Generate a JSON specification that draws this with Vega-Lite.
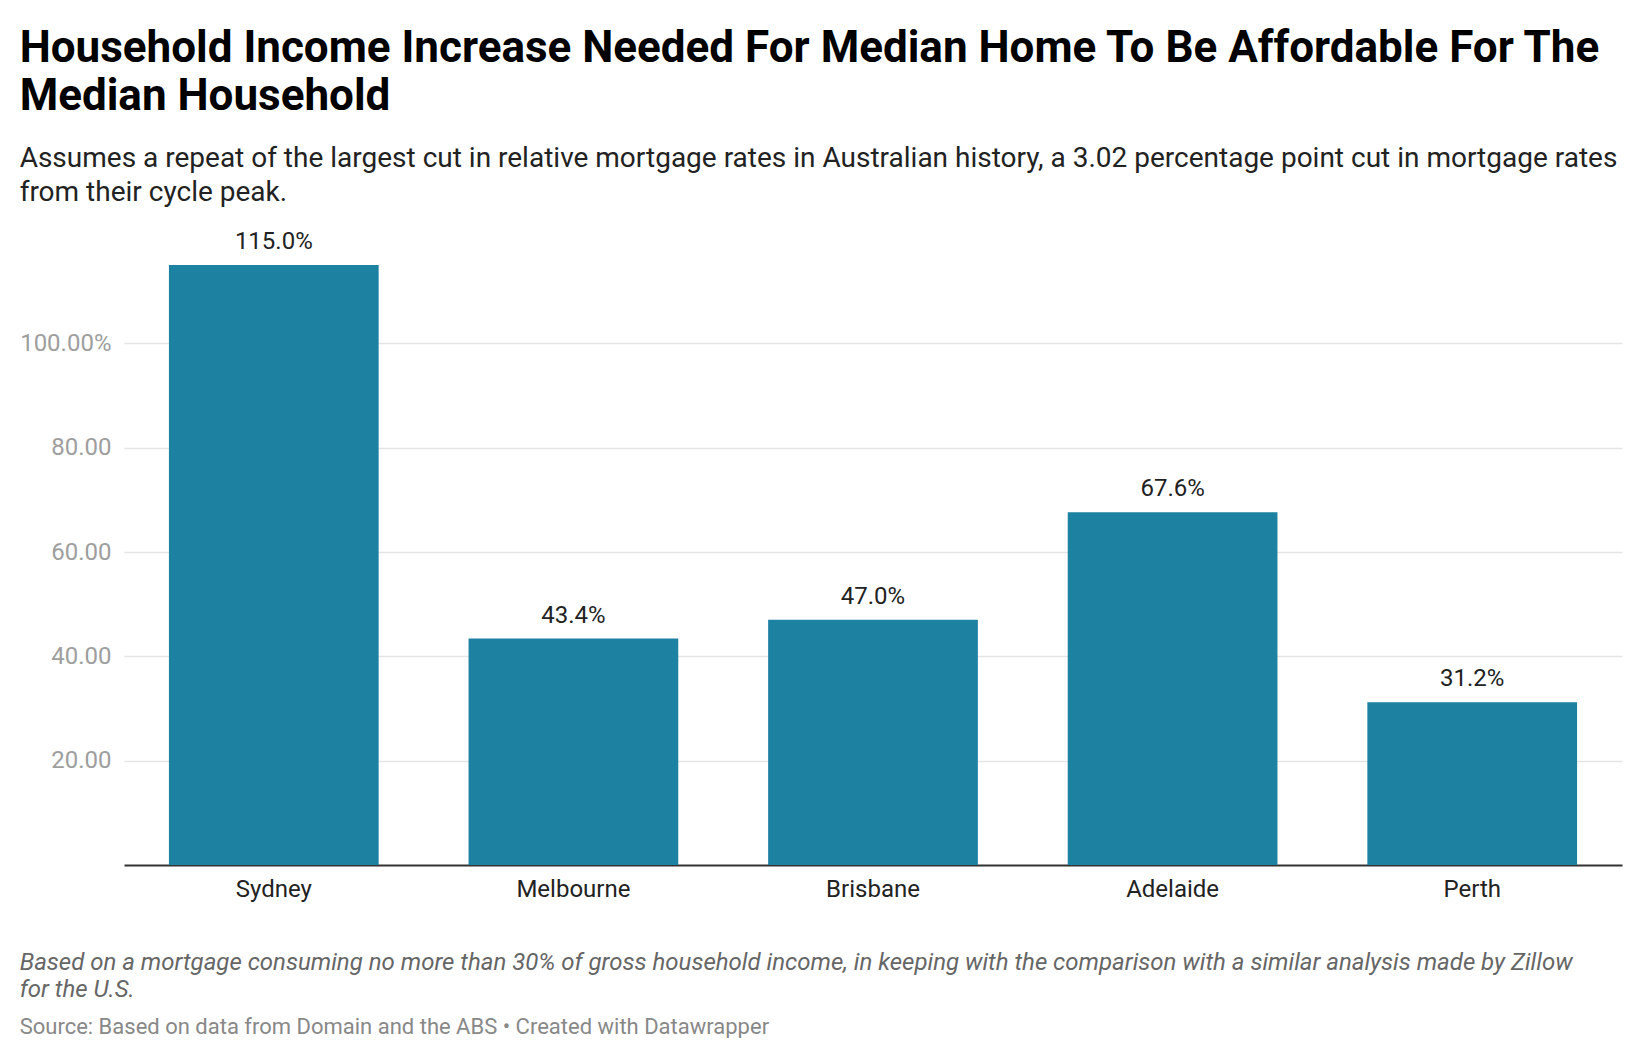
{
  "$schema": "https://vega.github.io/schema/vega-lite/v6.json",
  "background": "white",
  "padding": {"left": 19, "top": 27, "right": 12, "bottom": 0},
  "config": {"font": "Roboto", "view": {"stroke": null}},
  "title": {
    "text": ["Household Income Increase Needed For Median Home To Be Affordable For The", "Median Household"],
    "subtitle": ["Assumes a repeat of the largest cut in relative mortgage rates in Australian history, a 3.02 percentage point cut in mortgage rates", "from their cycle peak."],
    "anchor": "start",
    "frame": "bounds",
    "font": "Roboto",
    "fontSize": 44,
    "fontWeight": "bold",
    "lineHeight": 48,
    "color": "#000000",
    "subtitleFont": "Roboto",
    "subtitleFontSize": 28,
    "subtitleLineHeight": 34,
    "subtitleColor": "#222222",
    "subtitlePadding": 26,
    "offset": 23
  },
  "vconcat": [
    {
      "width": 1498,
      "height": 626,
      "title": {
        "text": ["Based on a mortgage consuming no more than 30% of gross household income, in keeping with the comparison with a similar analysis made by Zillow", "for the U.S."],
        "orient": "bottom",
        "anchor": "start",
        "frame": "bounds",
        "font": "Roboto",
        "fontSize": 24,
        "fontStyle": "italic",
        "fontWeight": "normal",
        "color": "#666666",
        "lineHeight": 27,
        "subtitle": "Source: Based on data from Domain and the ABS • Created with Datawrapper",
        "subtitleFont": "Roboto",
        "subtitleFontSize": 22,
        "subtitleColor": "#888888",
        "subtitlePadding": 15,
        "offset": 50
      },
      "data": {
        "values": [
          {"city": "Sydney", "value": 1.15},
          {"city": "Melbourne", "value": 0.434},
          {"city": "Brisbane", "value": 0.47},
          {"city": "Adelaide", "value": 0.676},
          {"city": "Perth", "value": 0.312}
        ]
      },
      "encoding": {
        "x": {
          "field": "city",
          "type": "nominal",
          "sort": null,
          "scale": {"paddingInner": 0.3, "paddingOuter": 0.15},
          "axis": {
            "title": null,
            "labelAngle": 0,
            "ticks": false,
            "grid": false,
            "domainColor": "#333333",
            "domainWidth": 2,
            "labelFont": "Roboto",
            "labelFontSize": 24,
            "labelColor": "#222222",
            "labelPadding": 12
          }
        },
        "y": {
          "field": "value",
          "type": "quantitative",
          "scale": {"domain": [0, 1.2], "nice": false},
          "axis": {
            "title": null,
            "values": [0.2, 0.4, 0.6, 0.8, 1.0],
            "labelExpr": "datum.value >= 0.99 ? '100.00%' : format(datum.value * 100, '.2f')",
            "domain": false,
            "ticks": false,
            "grid": true,
            "gridColor": "#e5e5e5",
            "gridWidth": 1.5,
            "labelFont": "Roboto",
            "labelFontSize": 24,
            "labelColor": "#9e9e9e",
            "labelPadding": 13
          }
        }
      },
      "layer": [
        {"mark": {"type": "bar", "color": "#1d81a2"}},
        {
          "mark": {"type": "text", "dy": -16, "baseline": "alphabetic", "font": "Roboto", "fontSize": 24, "color": "#222222"},
          "encoding": {"text": {"field": "value", "type": "quantitative", "format": ".1%"}}
        }
      ]
    }
  ]
}
